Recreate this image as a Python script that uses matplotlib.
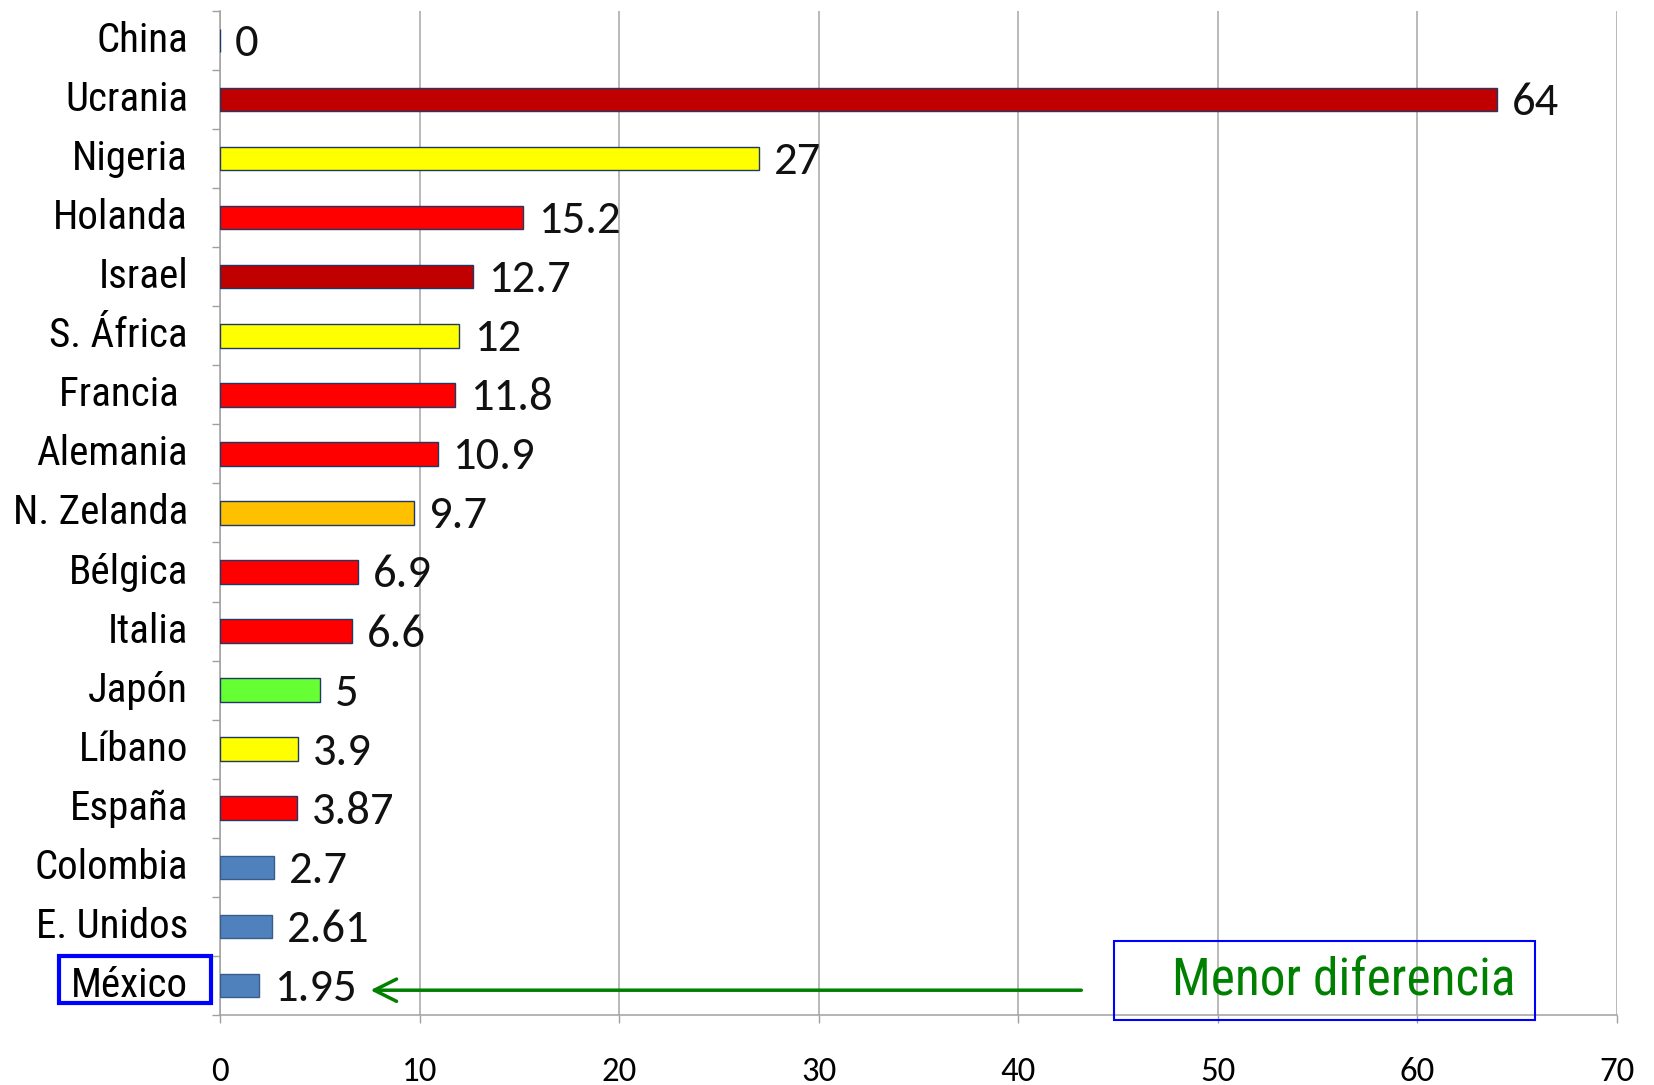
import matplotlib
matplotlib.use("Agg")
import matplotlib.pyplot as plt
from matplotlib.patches import Rectangle, FancyArrowPatch
from matplotlib.font_manager import fontManager

countries = ["China", "Ucrania", "Nigeria", "Holanda", "Israel", "S. África", "Francia ",
             "Alemania", "N. Zelanda", "Bélgica", "Italia", "Japón", "Líbano", "España",
             "Colombia", "E. Unidos", "México"]
values = [0, 64, 27, 15.2, 12.7, 12, 11.8, 10.9, 9.7, 6.9, 6.6, 5, 3.9, 3.87, 2.7, 2.61, 1.95]
value_labels = ["0", "64", "27", "15.2", "12.7", "12", "11.8", "10.9", "9.7", "6.9", "6.6",
                "5", "3.9", "3.87", "2.7", "2.61", "1.95"]
colors = ["#C00000", "#C00000", "#FFFF00", "#FF0000", "#C00000", "#FFFF00", "#FF0000",
          "#FF0000", "#FFC000", "#FF0000", "#FF0000", "#66FF33", "#FFFF00", "#FF0000",
          "#4F81BD", "#4F81BD", "#4F81BD"]
xticks = [0, 10, 20, 30, 40, 50, 60, 70]
note_text = "Menor diferencia"

names = {f.name for f in fontManager.ttflist}
narrow = None
for cand in ["Liberation Sans Narrow", "Arial Narrow", "Roboto Condensed",
             "DejaVu Sans Condensed", "Noto Sans Condensed"]:
    if cand in names:
        narrow = cand
        break
if narrow is None:
    extra = sorted(n for n in names if ("Narrow" in n or "Condensed" in n)
                   and "Light" not in n and "Bold" not in n and "Mono" not in n
                   and "Serif" not in n)
    narrow = extra[0] if extra else "Roboto"
numfont = "Carlito" if "Carlito" in names else "Lato"

fig = plt.figure(figsize=(16.54, 10.85), dpi=100)
ax = fig.add_axes([0.133, 0.0645, 0.9776 - 0.133, 0.990 - 0.0645])

ypos = list(range(len(countries)))
edge = ["#385D8A" if c == "#4F81BD" else "#1F3864" for c in colors]
ax.barh(ypos, values, height=0.4, color=colors, edgecolor=edge, linewidth=1.0, zorder=3)

for y, v, t in zip(ypos, values, value_labels):
    ax.text(v + 0.75, y + 0.05, t, va="center", ha="left", fontsize=33.5,
            family=numfont, color="#111111", zorder=4)

ax.set_xlim(0, 70)
ax.set_ylim(len(countries) - 0.5, -0.5)
ax.set_xticks(xticks)
ax.set_xticklabels([str(x) for x in xticks], family=numfont, fontsize=25)
ax.set_yticks(ypos)
ax.set_yticklabels(countries, family=narrow, fontsize=29.5, va="center")
for lbl in ax.get_yticklabels():
    lbl.set_y(lbl.get_position()[1])
ax.set_yticks([i - 0.5 for i in range(len(countries) + 1)], minor=True)
ax.tick_params(axis="y", which="major", length=0, pad=23)
ax.tick_params(axis="y", which="minor", length=6, color="#A0A0A0", width=1)
ax.tick_params(axis="x", which="major", length=6, color="#A0A0A0", width=1, pad=24)

ax.grid(axis="x", color="#A6A6A6", linewidth=1.1, zorder=0)
for s in ["top", "right"]:
    ax.spines[s].set_visible(False)
for s in ["left", "bottom"]:
    ax.spines[s].set_color("#A0A0A0")
    ax.spines[s].set_linewidth(1.1)

# Mexico highlight box
ax.add_patch(Rectangle((-8.05, 15.5), 7.6, 0.8, fill=False, edgecolor="#0000FF",
                       linewidth=3, clip_on=False, zorder=5))
# note box
ax.add_patch(Rectangle((44.8, 15.25), 21.1, 1.34, fill=False, edgecolor="#0000FF",
                       linewidth=1.5, clip_on=False, zorder=5))
ax.text(64.9, 15.93, note_text, ha="right", va="center", fontsize=37, family=narrow,
        color="#008000", zorder=6)
arrow = FancyArrowPatch((43.3, 16.08), (7.4, 16.08), arrowstyle="->,head_length=16,head_width=8",
                        color="#008000", linewidth=2.5, mutation_scale=1, zorder=6, clip_on=False)
ax.add_patch(arrow)

fig.savefig("out.png", dpi=100)
